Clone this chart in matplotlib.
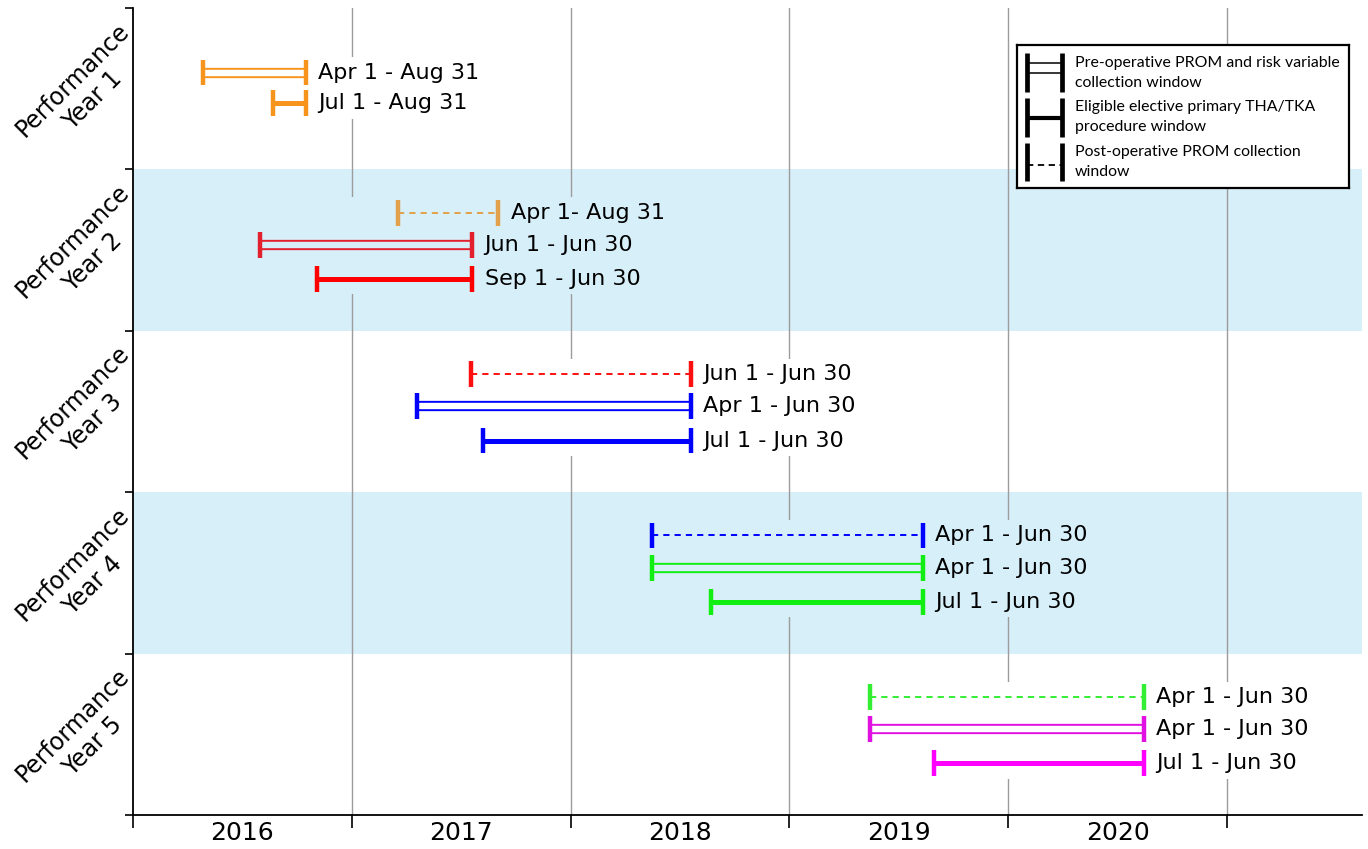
import matplotlib
matplotlib.use("Agg")
import matplotlib.pyplot as plt
from matplotlib.patches import Rectangle

# ---------------- data ----------------
row_labels = ["Performance\nYear 1", "Performance\nYear 2", "Performance\nYear 3",
              "Performance\nYear 4", "Performance\nYear 5"]
year_labels = ["2016", "2017", "2018", "2019", "2020"]
year_ticks = [2016, 2017, 2018, 2019, 2020, 2021]

# windows: (row, kind, start, end, color, label)
# kind: 'post' = dashed, 'pre' = double line, 'proc' = thick line
win_row = [0, 0,
           1, 1, 1,
           2, 2, 2,
           3, 3, 3,
           4, 4, 4]
win_kind = ["pre", "proc",
            "post", "pre", "proc",
            "post", "pre", "proc",
            "post", "pre", "proc",
            "post", "pre", "proc"]
win_start = [2016.32, 2016.64,
             2017.21, 2016.58, 2016.84,
             2017.545, 2017.30, 2017.60,
             2018.37, 2018.37, 2018.64,
             2019.37, 2019.37, 2019.66]
win_end = [2016.79, 2016.79,
           2017.67, 2017.55, 2017.55,
           2018.55, 2018.55, 2018.55,
           2019.61, 2019.61, 2019.61,
           2020.62, 2020.62, 2020.62]
win_color = ["#f7941d", "#f7941d",
             "#e3a04a", "#e3202e", "#ff0000",
             "#ff1010", "#0000ff", "#0000ff",
             "#0000ff", "#11ee11", "#11ee11",
             "#33ee33", "#e010e0", "#ff00ff"]
win_label = ["Apr 1 - Aug 31", "Jul 1 - Aug 31",
             "Apr 1- Aug 31", "Jun 1 - Jun 30", "Sep 1 - Jun 30",
             "Jun 1 - Jun 30", "Apr 1 - Jun 30", "Jul 1 - Jun 30",
             "Apr 1 - Jun 30", "Apr 1 - Jun 30", "Jul 1 - Jun 30",
             "Apr 1 - Jun 30", "Apr 1 - Jun 30", "Jul 1 - Jun 30"]

legend_texts = ["Pre-operative PROM and risk variable\ncollection window",
                "Eligible elective primary THA/TKA\nprocedure window",
                "Post-operative PROM collection\nwindow"]

# ---------------- layout ----------------
band_color = "#d7eff9"
row_bg = ["white", band_color, "white", band_color, "white"]
slot_first_row = {"pre": 0.40, "proc": 0.59}
slot_other = {"post": 0.268, "pre": 0.468, "proc": 0.68}
cap_half = 0.08
LEG_FONT = ["Lato", "DejaVu Sans"]

fig = plt.figure(figsize=(13.68, 8.49), dpi=100)
ax = fig.add_axes([133 / 1368, 1 - 815 / 849, (1362 - 133) / 1368, (815 - 8) / 849])
ax.set_xlim(2016.0, 2021.617)
ax.set_ylim(5, 0)

for sp in ["top", "right"]:
    ax.spines[sp].set_visible(False)
for sp in ["left", "bottom"]:
    ax.spines[sp].set_linewidth(1.3)
    ax.spines[sp].set_zorder(6)

# bands
for i, c in enumerate(row_bg):
    if c != "white":
        ax.axhspan(i, i + 1, color=c, lw=0, zorder=0)

# vertical gridlines at year boundaries
for yv in year_ticks[1:]:
    ax.axvline(yv, color="#9c9c9c", lw=1.0, zorder=1)

# ticks
ax.set_xticks(year_ticks)
ax.set_xticklabels([])
ax.tick_params(axis="x", which="major", length=9, width=1.2, direction="out")
ax.set_xticks([y + 0.5 for y in year_ticks[:-1]], minor=True)
ax.set_xticklabels(year_labels, minor=True, fontsize=18)
ax.tick_params(axis="x", which="minor", length=0, pad=4)
ax.set_yticks(range(6))
ax.set_yticklabels([])
ax.tick_params(axis="y", length=6, width=1.2, direction="out")

# row labels
for i, lab in enumerate(row_labels):
    ax.text(-0.041, i + 0.51, lab, transform=ax.get_yaxis_transform(),
            rotation=45, rotation_mode="anchor", ha="center", va="center",
            multialignment="center", fontsize=17, linespacing=1.3)

# windows
texts_by_row = {i: [] for i in range(5)}
ys_by_row = {i: [] for i in range(5)}
for r, k, s, e, c, lab in zip(win_row, win_kind, win_start, win_end, win_color, win_label):
    y = (slot_first_row if r == 0 else slot_other)[k] + r
    bg = row_bg[r]
    if k == "pre":
        ax.plot([s, e], [y, y], color=c, lw=7.4, solid_capstyle="butt", zorder=3)
        ax.plot([s, e], [y, y], color=bg, lw=4.6, solid_capstyle="butt", zorder=3.1)
    elif k == "proc":
        ax.plot([s, e], [y, y], color=c, lw=3.6, solid_capstyle="butt", zorder=3)
    else:
        ax.plot([s, e], [y, y], color=c, lw=1.4, linestyle=(0, (3.2, 2.6)), zorder=3)
    ax.vlines([s, e], y - cap_half, y + cap_half, color=c, lw=3.2, zorder=3.2)
    t = ax.annotate(lab, (e, y), xytext=(9, 0), textcoords="offset points",
                    ha="left", va="center", fontsize=16, zorder=4)
    texts_by_row[r].append(t)
    ys_by_row[r].append(y)

# background boxes behind each group (interrupt gridlines)
fig.canvas.draw()
renderer = fig.canvas.get_renderer()
inv = ax.transData.inverted()
for r in range(5):
    idx = [i for i, rr in enumerate(win_row) if rr == r]
    x0 = min(win_start[i] for i in idx) - 0.02
    x1_px = max(t.get_window_extent(renderer).x1 for t in texts_by_row[r]) + 4
    x1 = inv.transform((x1_px, 0))[0]
    y0 = min(ys_by_row[r]) - cap_half - 0.015
    y1 = max(ys_by_row[r]) + cap_half + 0.015
    ax.add_patch(Rectangle((x0, y0), x1 - x0, y1 - y0, facecolor=row_bg[r],
                           edgecolor="none", zorder=2))

# legend box
lax = fig.add_axes([1017 / 1368, 1 - 188 / 849, 332 / 1368, 143 / 849])
lax.set_xlim(0, 332)
lax.set_ylim(143, 0)
lax.set_xticks([])
lax.set_yticks([])
lax.set_facecolor("white")
for sp in lax.spines.values():
    sp.set_linewidth(1.6)
    sp.set_color("black")
cx0, cx1 = 10, 45
# entry 1 - double line
lax.plot([cx0, cx1], [17.7, 17.7], color="black", lw=1.1)
lax.plot([cx0, cx1], [28.3, 28.3], color="black", lw=1.1)
lax.vlines([cx0, cx1], 8, 47, color="black", lw=3.4)
# entry 2 - thick
lax.plot([cx0, cx1], [73, 73], color="black", lw=3.0, solid_capstyle="butt")
lax.vlines([cx0, cx1], 53, 92, color="black", lw=3.4)
# entry 3 - dashed
lax.plot([cx0, cx1], [120, 120], color="black", lw=1.3, linestyle=(0, (3.5, 2.5)))
lax.vlines([cx0, cx1], 98, 136, color="black", lw=3.4)
for ty, txt in zip([28, 72, 117], legend_texts):
    lax.text(58, ty, txt, ha="left", va="center", fontsize=11.4, family=LEG_FONT,
             linespacing=1.5)

fig.savefig("out.png", dpi=100)
